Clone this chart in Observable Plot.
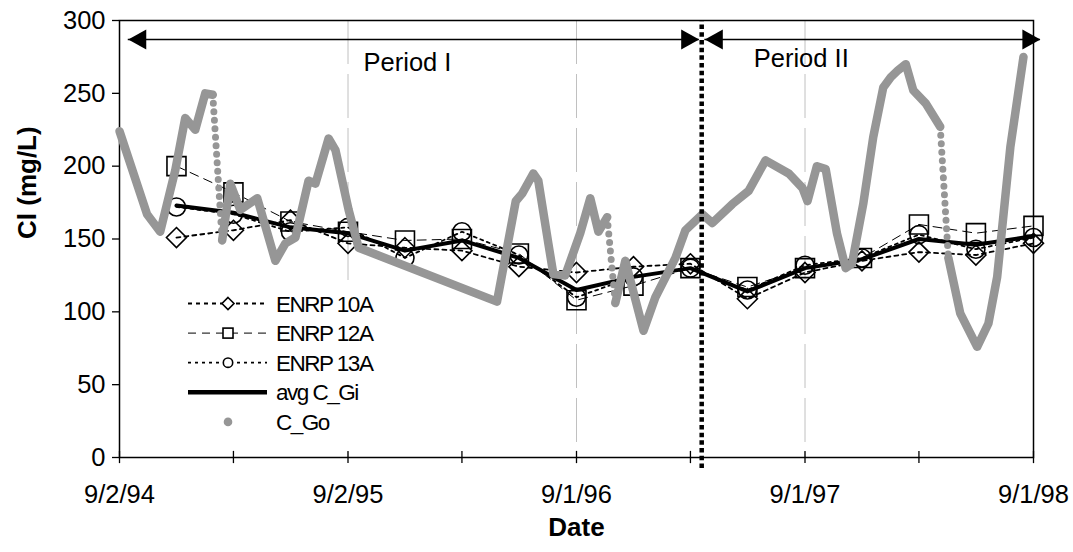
<!DOCTYPE html>
<html><head><meta charset="utf-8">
<script src="https://cdn.jsdelivr.net/npm/d3@7"></script>
<script src="https://cdn.jsdelivr.net/npm/@observablehq/plot@0.6"></script>
<style>body{margin:0;background:#fff;color:#000;}</style>
</head><body><div id="chart"></div>
<script>
// ---------- data ----------
const sampleDates = ["1994-12-02","1995-03-03","1995-06-02","1995-09-02","1995-12-02","1996-03-02","1996-06-01","1996-09-01","1996-12-01","1997-03-02","1997-06-01","1997-09-01","1997-12-01","1998-03-02","1998-06-01","1998-09-01"];
const enrp10A = [151,156,163,147,144,142,131,127,131,133,109,127,135,141,139,147];
const enrp12A = [200,182,162,155,149,150,140,108,118,130,117,130,137,160,154,159];
const enrp13A = [172,167,155,158,137,155,139,110,124,130,115,132,137,153,143,151];
const avgCGi  = [173,168,158,154,142,149,137,115,124,130,114,130,136,150,146,152];

const cgoDates = ["1994-09-02","1994-10-16","1994-11-06","1994-11-30","1994-12-16","1995-01-01","1995-01-17","1995-01-29","1995-02-13","1995-02-26","1995-03-14","1995-04-10","1995-05-09","1995-05-25","1995-06-10","1995-07-01","1995-07-12","1995-08-02","1995-08-13","1995-09-03","1995-09-19","1996-04-27","1996-05-27","1996-06-06","1996-06-24","1996-07-02","1996-07-18","1996-07-26","1996-08-14","1996-09-07","1996-09-23","1996-10-06","1996-10-20","1996-11-02","1996-11-18","1996-12-17","1997-01-05","1997-02-06","1997-02-22","1997-03-21","1997-04-06","1997-05-08","1997-06-03","1997-06-30","1997-08-06","1997-08-28","1997-09-05","1997-09-20","1997-10-04","1997-10-22","1997-11-05","1997-11-15","1997-12-03","1997-12-19","1998-01-04","1998-01-16","1998-01-28","1998-02-09","1998-02-21","1998-03-13","1998-04-05","1998-04-18","1998-05-07","1998-06-03","1998-06-21","1998-07-05","1998-07-26","1998-08-16"];
const cgoValues = [224,167,155,197,233,225,250,249,149,188,170,178,135,147,151,190,188,219,211,170,144,107,176,181,195,190,147,126,125,154,178,155,165,106,135,87,110,137,156,167,161,174,183,204,195,185,176,200,198,154,130,133,174,220,254,261,266,270,252,243,227,137,99,76,92,124,213,275];
const cgoSparseStarts = ["1995-01-29","1996-10-20","1998-04-05"]; // segments with sparse (dotted) records

const majorTickDates = ["1994-09-02","1995-09-02","1996-09-01","1997-09-01","1998-09-01"];
const majorTickLabels = ["9/2/94","9/2/95","9/1/96","9/1/97","9/1/98"];
const minorTickDates = ["1995-03-03","1996-03-02","1997-03-02","1998-03-02"];
const gridDates = ["1995-09-02","1996-09-01","1997-09-01"];
const yTicks = [0,50,100,150,200,250,300];

const periodNames = ["Period I","Period II"];
const periodStarts = ["1994-09-16","1997-03-25"];
const periodEnds = ["1997-03-16","1998-09-12"];
const periodLabelDates = ["1995-12-06","1997-08-26"];
const periodDivider = "1997-03-20";

const seriesNames = ["ENRP 10A","ENRP 12A","ENRP 13A","avg C_Gi","C_Go"];

// ---------- build ----------
const parse = d3.utcParse("%Y-%m-%d");
const samples = sampleDates.map((d,i)=>({date:parse(d), a10:enrp10A[i], a12:enrp12A[i], a13:enrp13A[i], avg:avgCGi[i]}));
const sparse = new Set(cgoSparseStarts);
const cgoSolid = [], cgoDotted = [];
let piece = 0;
cgoDates.forEach((d,i)=>{
  cgoSolid.push({date:parse(d), v:cgoValues[i], piece});
  if (sparse.has(d) && i+1 < cgoDates.length) {
    cgoDotted.push({date:parse(d), v:cgoValues[i], g:i},{date:parse(cgoDates[i+1]), v:cgoValues[i+1], g:i});
    piece++;
  }
});
const periods = periodNames.map((n,i)=>({name:n, start:parse(periodStarts[i]), end:parse(periodEnds[i]), lab:parse(periodLabelDates[i])}));
const labelMap = new Map(majorTickDates.map((d,i)=>[+parse(d), majorTickLabels[i]]));
const allTicks = majorTickDates.concat(minorTickDates).map(parse);

const symDiamond = {draw(c,s){const r=Math.sqrt(s/Math.PI);c.moveTo(0,-r);c.lineTo(r,0);c.lineTo(0,r);c.lineTo(-r,0);c.closePath();}};
const symSquare = {draw(c,s){const r=Math.sqrt(s/Math.PI);c.rect(-r,-r,2*r,2*r);}};
const headLeft = {draw(c){c.moveTo(0,0);c.lineTo(18,-10);c.lineTo(18,10);c.closePath();}};
const headRight = {draw(c){c.moveTo(0,0);c.lineTo(-18,-10);c.lineTo(-18,10);c.closePath();}};
const ARROW_Y = 287;
const GRAY = "#969696";
const FS = 25.5;

const plot = Plot.plot({
  width: 1073, height: 552,
  marginLeft: 119, marginRight: 40, marginTop: 20, marginBottom: 95,
  style: {fontFamily: "'Liberation Sans', Arial, sans-serif", fontSize: FS + "px", background: "white", color: "black"},
  x: {type: "utc", domain: [parse(majorTickDates[0]), parse(majorTickDates[4])]},
  y: {domain: [0, 300]},
  marks: [
    Plot.ruleX(gridDates.map(parse), {stroke: "#c0c0c0", strokeWidth: 1, strokeDasharray: "44,10"}),
    Plot.ruleX(allTicks, {y1: -4.2, y2: 4.2, stroke: "black", strokeWidth: 1.3}),
    Plot.axisX(majorTickDates.map(parse), {tickSize: 0, tickPadding: 27, tickFormat: d => labelMap.get(+d), fontSize: FS, label: null}),
    Plot.axisY(yTicks, {tickSize: 7, tickPadding: 7, fontSize: FS, label: null, strokeWidth: 1.3}),
    Plot.frame({stroke: "black", strokeWidth: 1.5}),
    // ENRP 10A
    Plot.line(samples, {x: "date", y: "a10", stroke: "black", strokeWidth: 1.8, strokeDasharray: "4,4"}),
    Plot.dot(samples, {x: "date", y: "a10", symbol: symDiamond, r: 10, fill: "none", stroke: "black", strokeWidth: 1.6}),
    // ENRP 12A
    Plot.line(samples, {x: "date", y: "a12", stroke: "black", strokeWidth: 1, strokeDasharray: "9,6"}),
    Plot.dot(samples, {x: "date", y: "a12", symbol: symSquare, r: 9.5, fill: "none", stroke: "black", strokeWidth: 1.6}),
    // ENRP 13A
    Plot.line(samples, {x: "date", y: "a13", stroke: "black", strokeWidth: 1.8, strokeDasharray: "3,4"}),
    Plot.dot(samples, {x: "date", y: "a13", symbol: "circle", r: 9, fill: "none", stroke: "black", strokeWidth: 1.6}),
    // avg
    Plot.line(samples, {x: "date", y: "avg", stroke: "black", strokeWidth: 4, strokeLinejoin: "round"}),
    // C_Go
    Plot.line(cgoSolid, {x: "date", y: "v", z: "piece", stroke: GRAY, strokeWidth: 8.5, strokeLinecap: "round", strokeLinejoin: "round"}),
    Plot.line(cgoDotted, {x: "date", y: "v", z: "g", stroke: GRAY, strokeWidth: 7, strokeLinecap: "round", strokeDasharray: "0,8.5"}),
    // period divider
    Plot.ruleX([parse(periodDivider)], {y1: -7.5, y2: 300, stroke: "black", strokeWidth: 4.5, strokeDasharray: "4.5,3.2"}),
    // period arrows
    Plot.ruleY(periods, {y: () => ARROW_Y, x1: "start", x2: "end", stroke: "black", strokeWidth: 1.5}),
    Plot.dot(periods, {x: "start", y: () => ARROW_Y, symbol: headLeft, r: 1, fill: "black", stroke: "none"}),
    Plot.dot(periods, {x: "end", y: () => ARROW_Y, symbol: headRight, r: 1, fill: "black", stroke: "none"}),
    Plot.text(periods, {x: "lab", y: (d,i) => i === 0 ? 271 : 274, text: "name", fontSize: FS, fill: "black"}),
    // axis titles
    Plot.text(["Date"], {frameAnchor: "bottom", dy: 78, text: d => d, fontSize: 26, fontWeight: "bold", fill: "black"}),
    Plot.text(["Cl (mg/L)"], {frameAnchor: "left", dx: -92, rotate: -90, text: d => d, fontSize: 26, fontWeight: "bold", fill: "black"})
  ]
});
document.getElementById("chart").appendChild(plot);

// ---------- legend (inside plot area) ----------
const svg = d3.select(plot);
const lg = svg.append("g").attr("font-family", "'Liberation Sans', Arial, sans-serif").attr("text-anchor", "start");
lg.append("rect").attr("x", 180).attr("y", 287).attr("width", 195).attr("height", 163).attr("fill", "white");
const legStyles = [
  {dash: "4,4", w: 1.8, sym: "diamond"},
  {dash: "8,6", w: 1, sym: "square"},
  {dash: "3,4", w: 1.8, sym: "circle"},
  {dash: null, w: 4.5, sym: null},
  {dash: null, w: 0, sym: "dot"}
];
seriesNames.forEach((name, i) => {
  const y = 303.5 + i * 29.6;
  const st = legStyles[i];
  if (st.w > 0) {
    const ln = lg.append("line").attr("x1", 188).attr("x2", 267).attr("y1", y).attr("y2", y)
      .attr("stroke", "black").attr("stroke-width", st.w);
    if (st.dash) ln.attr("stroke-dasharray", st.dash);
  }
  if (st.sym === "diamond") lg.append("path").attr("d", `M228,${y-6}L234,${y}L228,${y+6}L222,${y}Z`).attr("fill", "white").attr("stroke", "black").attr("stroke-width", 1.6);
  if (st.sym === "square") lg.append("rect").attr("x", 223).attr("y", y-5).attr("width", 10).attr("height", 10).attr("fill", "white").attr("stroke", "black").attr("stroke-width", 1.6);
  if (st.sym === "circle") lg.append("circle").attr("cx", 228).attr("cy", y).attr("r", 4.7).attr("fill", "white").attr("stroke", "black").attr("stroke-width", 1.6);
  if (st.sym === "dot") lg.append("circle").attr("cx", 228).attr("cy", y).attr("r", 4.3).attr("fill", GRAY);
  lg.append("text").attr("x", 276).attr("y", y).attr("dy", "0.36em").attr("font-size", 22.5)
    .attr("letter-spacing", "-1.5px").attr("fill", "black").text(name);
});
</script>
</body></html>
